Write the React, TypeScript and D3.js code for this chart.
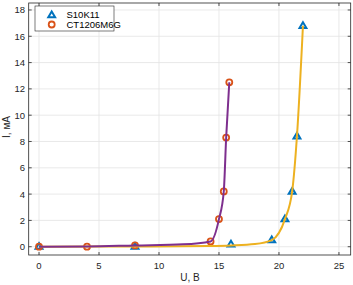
import React from "react";
import * as d3 from "d3";

// S10K11 measured points
const s10U = [0, 8, 16, 19.4, 20.5, 21.1, 21.5, 22.0];
const s10I = [0, 0, 0.18, 0.5, 2.1, 4.2, 8.4, 16.8];
// S10K11 fitted curve
const s10FitU = [0, 8, 14, 16, 18, 19.4, 20.5, 21.1, 21.5, 22.0];
const s10FitI = [0, 0.02, 0.06, 0.1, 0.2, 0.5, 2.1, 4.2, 8.4, 16.8];
// CT1206M6G measured points
const ctU = [0, 4, 8, 14.3, 15.0, 15.4, 15.6, 15.86];
const ctI = [0, 0, 0.1, 0.4, 2.1, 4.2, 8.3, 12.5];
// CT1206M6G fitted curve
const ctFitU = [0, 4, 8, 12, 14.3, 15.0, 15.4, 15.6, 15.86];
const ctFitI = [0, 0.02, 0.1, 0.18, 0.4, 2.1, 4.2, 8.3, 12.5];

const xTicks = [0, 5, 10, 15, 20, 25];
const yTicks = [0, 2, 4, 6, 8, 10, 12, 14, 16, 18];
const legendLabels = ["S10K11", "CT1206M6G"];

const W = 353, H = 285;
const L = 28.7, R = 350.7, T = 3, B = 255;
const FONT = "'Liberation Sans', Arial, sans-serif";
const AX = "#262626";

export default function App() {
  const x = d3.scaleLinear().domain([-0.86, 25.98]).range([L, R]);
  const y = d3.scaleLinear().domain([-0.63, 18.53]).range([B, T]);
  const line = d3
    .line<[number, number]>()
    .x((d) => x(d[0]))
    .y((d) => y(d[1]))
    .curve(d3.curveMonotoneX);
  const s10Fit = s10FitU.map((u, i) => [u, s10FitI[i]] as [number, number]);
  const ctFit = ctFitU.map((u, i) => [u, ctFitI[i]] as [number, number]);
  const tri = (cx: number, cy: number, s = 3.6) =>
    `M${cx},${cy - s}L${cx + s * 0.95},${cy + s * 0.6}L${cx - s * 0.95},${cy + s * 0.6}Z`;
  const blue = "#0072BD", orange = "#D95319", purple = "#7E2F8E", yellow = "#EDB120";

  return (
    <svg width={W} height={H} style={{ position: "absolute", left: 0, top: 0, background: "#fff" }}>
      <rect x={0} y={0} width={W} height={H} fill="#fff" />
      {/* grid */}
      {xTicks.map((t) => (
        <line key={"gx" + t} x1={x(t)} x2={x(t)} y1={T} y2={B} stroke="#e3e3e3" strokeWidth={0.8} />
      ))}
      {yTicks.map((t) => (
        <line key={"gy" + t} x1={L} x2={R} y1={y(t)} y2={y(t)} stroke="#e3e3e3" strokeWidth={0.8} />
      ))}
      {/* markers */}
      {s10U.map((u, i) => (
        <path key={"t" + i} d={tri(x(u), y(s10I[i]))} fill="none" stroke={blue} strokeWidth={2} strokeLinejoin="miter" />
      ))}
      {ctU.map((u, i) => (
        <circle key={"c" + i} cx={x(u)} cy={y(ctI[i])} r={3} fill="none" stroke={orange} strokeWidth={1.8} />
      ))}
      {/* curves */}
      <path d={line(s10Fit) || ""} fill="none" stroke={yellow} strokeWidth={2} />
      <path d={line(ctFit) || ""} fill="none" stroke={purple} strokeWidth={2} />
      {/* axes box */}
      <rect x={L} y={T} width={R - L} height={B - T} fill="none" stroke={AX} strokeWidth={0.8} />
      {xTicks.map((t) => (
        <g key={"xt" + t}>
          <line x1={x(t)} x2={x(t)} y1={B} y2={B - 3} stroke={AX} strokeWidth={0.8} />
          <line x1={x(t)} x2={x(t)} y1={T} y2={T + 3} stroke={AX} strokeWidth={0.8} />
          <text x={x(t)} y={268.5} textAnchor="middle" fontFamily={FONT} fontSize={9.5} fill={AX}>
            {t}
          </text>
        </g>
      ))}
      {yTicks.map((t) => (
        <g key={"yt" + t}>
          <line x1={L} x2={L + 3} y1={y(t)} y2={y(t)} stroke={AX} strokeWidth={0.8} />
          <line x1={R} x2={R - 3} y1={y(t)} y2={y(t)} stroke={AX} strokeWidth={0.8} />
          <text x={25} y={y(t) + 3.4} textAnchor="end" fontFamily={FONT} fontSize={9.5} fill={AX}>
            {t}
          </text>
        </g>
      ))}
      <text x={190} y={281} textAnchor="middle" fontFamily={FONT} fontSize={10} fill={AX}>
        U, B
      </text>
      <text transform={`translate(9.5,127) rotate(-90)`} textAnchor="middle" fontFamily={FONT} fontSize={10} fill={AX}>
        I, мА
      </text>
      {/* legend */}
      <rect x={35} y={6} width={79} height={25} fill="#fff" stroke="#262626" strokeWidth={0.6} />
      <path d={tri(51.7, 15)} fill="none" stroke={blue} strokeWidth={2} />
      <text x={66.5} y={18.3} fontFamily={FONT} fontSize={9.5} fill="#000">
        {legendLabels[0]}
      </text>
      <circle cx={51.7} cy={24.5} r={3} fill="none" stroke={orange} strokeWidth={1.8} />
      <text x={66.5} y={27.8} fontFamily={FONT} fontSize={9.5} fill="#000">
        {legendLabels[1]}
      </text>
    </svg>
  );
}
